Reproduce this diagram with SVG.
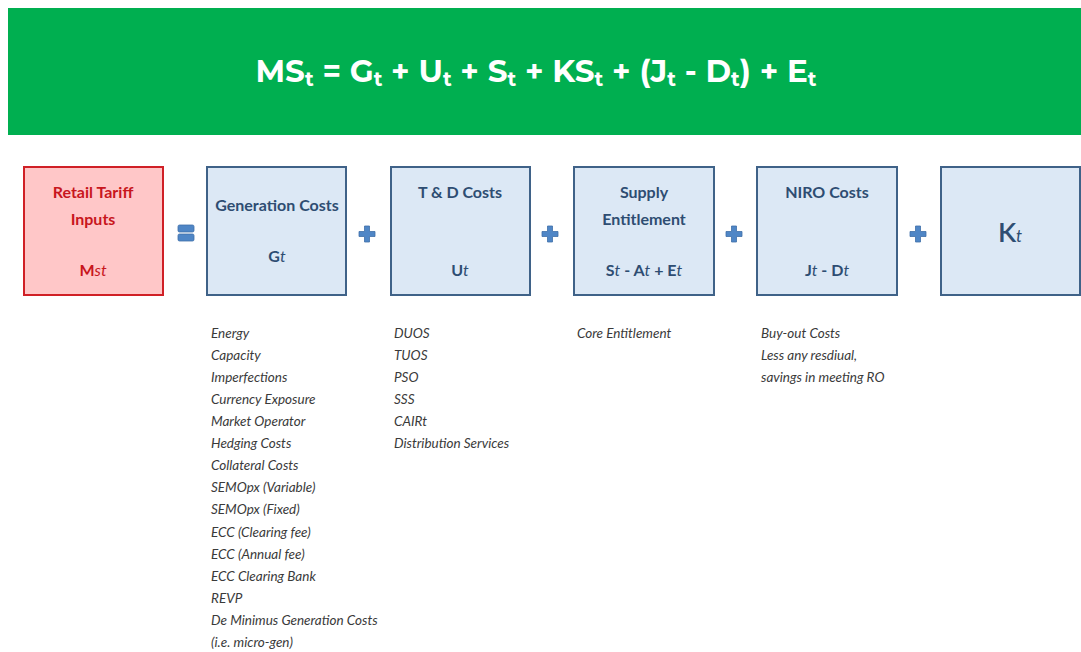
<svg xmlns="http://www.w3.org/2000/svg" width="1081" height="652" viewBox="0 0 1081 652">
  <style>
    .eq { font-family: Montserrat, "Open Sans", "Liberation Sans", sans-serif; font-weight: 700; font-size: 31px; fill: #ffffff; }
    .sub { font-size: 20px; }
    .box { fill: #dce8f5; stroke: #3f6288; stroke-width: 2; }
    .red { fill: #ffc7c8; stroke: #d02026; stroke-width: 2; }
    .ttl { font-family: Lato, "Noto Sans", "Liberation Sans", sans-serif; font-weight: 700; font-size: 16px; fill: #2e4d72; text-anchor: middle; }
    .rttl { font-family: Lato, "Noto Sans", "Liberation Sans", sans-serif; font-weight: 700; font-size: 16px; fill: #c8161d; text-anchor: middle; }
    .big { font-size: 27px; font-weight: 600; }
    .lst { font-family: Lato, "Noto Sans", "Liberation Sans", sans-serif; font-style: italic; font-size: 13.5px; fill: #3a3a3a; }
    .op { fill: #4f86c6; stroke: #3f6fa8; stroke-width: 0.8; }
  </style>

  <!-- Header band with the tariff equation -->
  <g id="header">
    <rect x="8" y="8" width="1073" height="127" fill="#00af50"/>
    <text class="eq" x="536" y="82" text-anchor="middle">MS<tspan class="sub" dy="4">t</tspan><tspan dy="-4"> = G</tspan><tspan class="sub" dy="4">t</tspan><tspan dy="-4"> + U</tspan><tspan class="sub" dy="4">t</tspan><tspan dy="-4"> + S</tspan><tspan class="sub" dy="4">t</tspan><tspan dy="-4"> + KS</tspan><tspan class="sub" dy="4">t</tspan><tspan dy="-4"> + (J</tspan><tspan class="sub" dy="4">t</tspan><tspan dy="-4"> - D</tspan><tspan class="sub" dy="4">t</tspan><tspan dy="-4">) + E</tspan><tspan class="sub" dy="4">t</tspan></text>
  </g>

  <!-- Retail tariff inputs -->
  <g id="retail">
    <rect class="red" x="24" y="167" width="139" height="128"/>
    <text class="rttl" x="93" y="198">Retail Tariff</text>
    <text class="rttl" x="93" y="225">Inputs</text>
    <text class="rttl" x="93" y="276">M<tspan font-style="italic" font-weight="400">st</tspan></text>
  </g>

  <!-- Generation costs -->
  <g id="generation">
    <rect class="box" x="207" y="167" width="139" height="128"/>
    <text class="ttl" x="277" y="211">Generation Costs</text>
    <text class="ttl" x="277" y="262">G<tspan font-style="italic" font-weight="400">t</tspan></text>
    <g class="lst">
      <text x="211" y="338">Energy</text>
      <text x="211" y="360">Capacity</text>
      <text x="211" y="382">Imperfections</text>
      <text x="211" y="404">Currency Exposure</text>
      <text x="211" y="426">Market Operator</text>
      <text x="211" y="448">Hedging Costs</text>
      <text x="211" y="470">Collateral Costs</text>
      <text x="211" y="492">SEMOpx (Variable)</text>
      <text x="211" y="514">SEMOpx (Fixed)</text>
      <text x="211" y="537">ECC (Clearing fee)</text>
      <text x="211" y="559">ECC (Annual fee)</text>
      <text x="211" y="581">ECC Clearing Bank</text>
      <text x="211" y="603">REVP</text>
      <text x="211" y="625">De Minimus Generation Costs</text>
      <text x="211" y="647">(i.e. micro-gen)</text>
    </g>
  </g>

  <!-- Transmission and distribution costs -->
  <g id="td">
    <rect class="box" x="391" y="167" width="139" height="128"/>
    <text class="ttl" x="460" y="198">T &amp; D Costs</text>
    <text class="ttl" x="460" y="276">U<tspan font-style="italic" font-weight="400">t</tspan></text>
    <g class="lst">
      <text x="394" y="338">DUOS</text>
      <text x="394" y="360">TUOS</text>
      <text x="394" y="382">PSO</text>
      <text x="394" y="404">SSS</text>
      <text x="394" y="426">CAIRt</text>
      <text x="394" y="448">Distribution Services</text>
    </g>
  </g>

  <!-- Supply entitlement -->
  <g id="supply">
    <rect class="box" x="574" y="167" width="140" height="128"/>
    <text class="ttl" x="644" y="198">Supply</text>
    <text class="ttl" x="644" y="225">Entitlement</text>
    <text class="ttl" x="644" y="276">S<tspan font-style="italic" font-weight="400">t</tspan> - A<tspan font-style="italic" font-weight="400">t</tspan> + E<tspan font-style="italic" font-weight="400">t</tspan></text>
    <text class="lst" x="577" y="338">Core Entitlement</text>
  </g>

  <!-- NIRO costs -->
  <g id="niro">
    <rect class="box" x="757" y="167" width="140" height="128"/>
    <text class="ttl" x="827" y="198">NIRO Costs</text>
    <text class="ttl" x="827" y="276">J<tspan font-style="italic" font-weight="400">t</tspan> - D<tspan font-style="italic" font-weight="400">t</tspan></text>
    <g class="lst">
      <text x="761" y="338">Buy-out Costs</text>
      <text x="761" y="360">Less any resdiual,</text>
      <text x="761" y="382">savings in meeting RO</text>
    </g>
  </g>

  <!-- K factor -->
  <g id="kfactor">
    <rect class="box" x="941" y="167" width="139" height="128"/>
    <text class="ttl big" x="1010" y="242">K<tspan font-style="italic" style="font-size:17px;font-weight:400">t</tspan></text>
  </g>

  <!-- Operators between the boxes -->
  <g id="operators">
    <rect class="op" x="178" y="225" width="16" height="7" rx="1.5"/>
    <rect class="op" x="178" y="234" width="16" height="7" rx="1.5"/>
    <path class="op" d="M364.5 226h5v5.5h5.5v5h-5.5v5.5h-5v-5.5h-5.5v-5h5.5z"/>
    <path class="op" d="M547.5 226h5v5.5h5.5v5h-5.5v5.5h-5v-5.5h-5.5v-5h5.5z"/>
    <path class="op" d="M731.5 226h5v5.5h5.5v5h-5.5v5.5h-5v-5.5h-5.5v-5h5.5z"/>
    <path class="op" d="M915.5 226h5v5.5h5.5v5h-5.5v5.5h-5v-5.5h-5.5v-5h5.5z"/>
  </g>
</svg>
